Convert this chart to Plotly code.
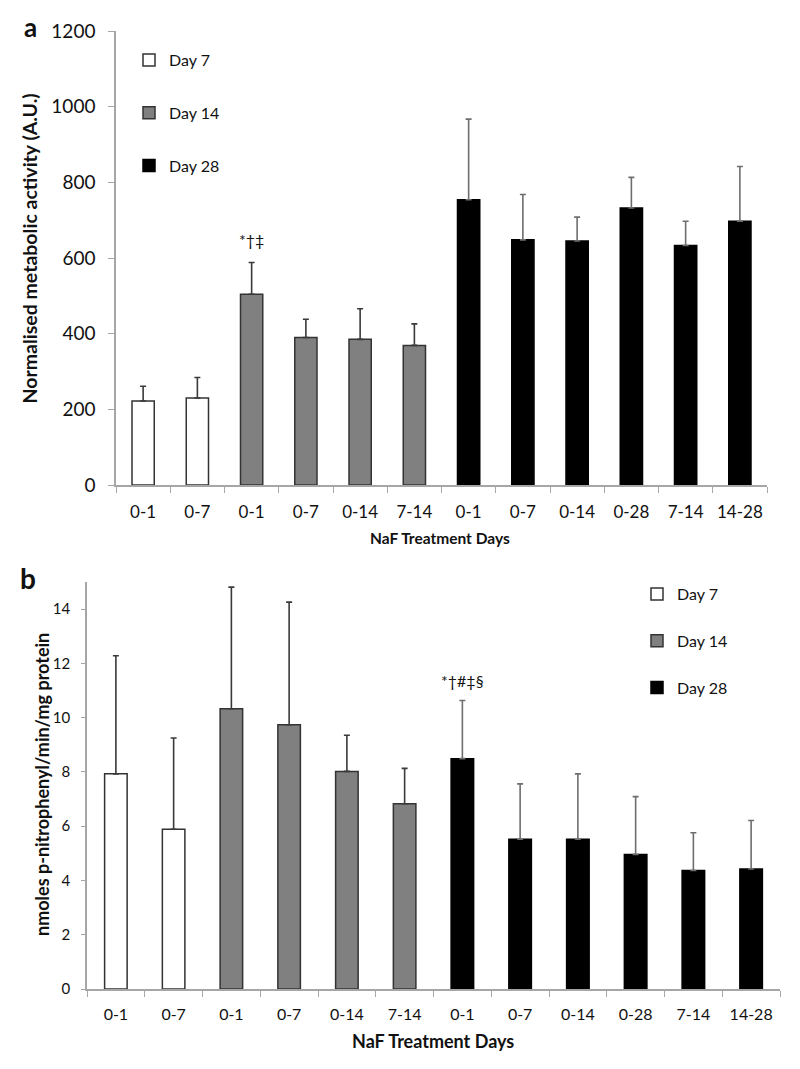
import plotly.graph_objects as go

# --- Dados ---
GROUPS = ['Day 7', 'Day 14', 'Day 28']
GROUP_OF_BAR = [0, 0, 1, 1, 1, 1, 2, 2, 2, 2, 2, 2]
LABELS = ['0-1', '0-7', '0-1', '0-7', '0-14', '7-14',
          '0-1', '0-7', '0-14', '0-28', '7-14', '14-28']

# painel a: atividade metabólica normalizada (média e topo da barra de erro)
META_MEAN = [222, 230, 504, 390, 385, 369, 754, 648, 645, 732, 633, 697]
META_TOP = [261, 284, 588, 438, 466, 426, 967, 768, 708, 813, 697, 842]

# painel b: nmoles p-nitrophenyl/min/mg protein
ALP_MEAN = [7.93, 5.89, 10.33, 9.74, 8.02, 6.83, 8.49, 5.52, 5.52, 4.96, 4.37, 4.42]
ALP_TOP = [12.28, 9.25, 14.81, 14.26, 9.35, 8.13, 10.63, 7.56, 7.93, 7.09, 5.76, 6.21]

FILLS = ['#ffffff', '#808080', '#000000']
LINES = ['#333333', '#333333', '#000000']
ERR_COLORS = ['#3a3a3a', '#3a3a3a', '#6e6e6e']
FONT = 'Lato, "Open Sans", sans-serif'
AXIS_GRAY = '#a6a6a6'

# a página tem margem de 8px no body: a figura é um pouco menor que a janela
W, H, OFF = 784, 1053, 8


def px(x):
    return (x - OFF) / W


def py(y):
    return 1 - (y - OFF) / H


def add_panel(fig, means, tops, xaxis, yaxis, legend, width):
    for g, name in enumerate(GROUPS):
        idx = [i for i, gg in enumerate(GROUP_OF_BAR) if gg == g]
        fig.add_trace(go.Bar(
            x=idx,
            y=[means[i] for i in idx],
            error_y=dict(type='data', symmetric=False,
                         array=[tops[i] - means[i] for i in idx],
                         arrayminus=[0] * len(idx),
                         color=ERR_COLORS[g], thickness=1.6, width=3),
            name=name, legendgroup=legend + name, legend=legend,
            marker=dict(color=FILLS[g], line=dict(color=LINES[g], width=1.5)),
            width=width, xaxis=xaxis, yaxis=yaxis,
        ))


fig = go.Figure()
add_panel(fig, META_MEAN, META_TOP, 'x', 'y', 'legend', 0.41)
add_panel(fig, ALP_MEAN, ALP_TOP, 'x2', 'y2', 'legend2', 0.39)

positions = list(range(len(LABELS)))
xcommon = dict(tickmode='array', tickvals=positions, ticktext=LABELS,
               range=[-0.5, len(LABELS) - 0.5], ticks='', showline=True,
               linecolor=AXIS_GRAY, linewidth=1.5, showgrid=False, zeroline=False,
               minor=dict(tick0=-0.5, dtick=1, ticks='outside', ticklen=6,
                          tickcolor=AXIS_GRAY, tickwidth=1.3),
               automargin=False, fixedrange=True)
ycommon = dict(showline=True, linecolor=AXIS_GRAY, linewidth=1.5, showgrid=False,
               zeroline=False, ticks='outside', ticklen=6, tickcolor=AXIS_GRAY,
               tickwidth=1.3, automargin=False)

fig.update_layout(
    width=W, height=H,
    margin=dict(l=0, r=0, t=0, b=0, autoexpand=False),
    paper_bgcolor='white', plot_bgcolor='white',
    font=dict(family=FONT, color='#111111'),
    barmode='overlay',
    showlegend=True,
    xaxis=dict(xcommon, domain=[px(116), px(767)], anchor='y',
               tickfont=dict(size=17), ticklabelstandoff=11),
    yaxis=dict(ycommon, domain=[py(485), py(31)], anchor='x', range=[0, 1200],
               dtick=200, tickfont=dict(size=19), ticklabelstandoff=9),
    xaxis2=dict(xcommon, domain=[px(87), px(780)], anchor='y2',
                tickfont=dict(size=16), ticklabelstandoff=10),
    yaxis2=dict(ycommon, domain=[py(989), py(582)], anchor='x2', range=[0, 15],
                tickvals=[0, 2, 4, 6, 8, 10, 12, 14], ticklen=4,
                tickfont=dict(size=15), ticklabelstandoff=8),
    legend=dict(x=px(129), y=py(43), xanchor='left', yanchor='top',
                font=dict(size=16), tracegroupgap=29, itemwidth=30,
                bgcolor='rgba(0,0,0,0)'),
    legend2=dict(x=px(637), y=py(577), xanchor='left', yanchor='top',
                 font=dict(size=16), tracegroupgap=23, itemwidth=30,
                 bgcolor='rgba(0,0,0,0)'),
)

# --- Títulos e anotações ---
ann = [
    dict(text='<b>a</b>', x=px(30), y=py(27), font=dict(size=26)),
    dict(text='<b>b</b>', x=px(27.5), y=py(578), font=dict(size=28)),
    dict(text='<b>Normalised metabolic activity (A.U.)</b>', x=px(28.5), y=py(249),
         textangle=-90, font=dict(size=19.5)),
    dict(text='<b>nmoles p-nitrophenyl/min/mg protein</b>', x=px(42), y=py(785),
         textangle=-90, font=dict(size=18)),
    dict(text='<b>NaF Treatment Days</b>', x=px(440), y=py(538), font=dict(size=15.5)),
    dict(text='<b>NaF Treatment Days</b>', x=px(433), y=py(1041), font=dict(size=18)),
]
for a in ann:
    fig.add_annotation(xref='paper', yref='paper', showarrow=False,
                       xanchor='center', yanchor='middle', **a)

fig.add_annotation(x=GROUP_OF_BAR.index(1), y=META_TOP[2], xref='x', yref='y',
                   text='*†‡', showarrow=False, yanchor='bottom', yshift=12,
                   font=dict(size=16))
fig.add_annotation(x=GROUP_OF_BAR.index(2), y=ALP_TOP[6], xref='x2', yref='y2',
                   text='*†#‡§', showarrow=False, yanchor='bottom', yshift=9,
                   font=dict(size=16))

fig.write_html('out.html')
